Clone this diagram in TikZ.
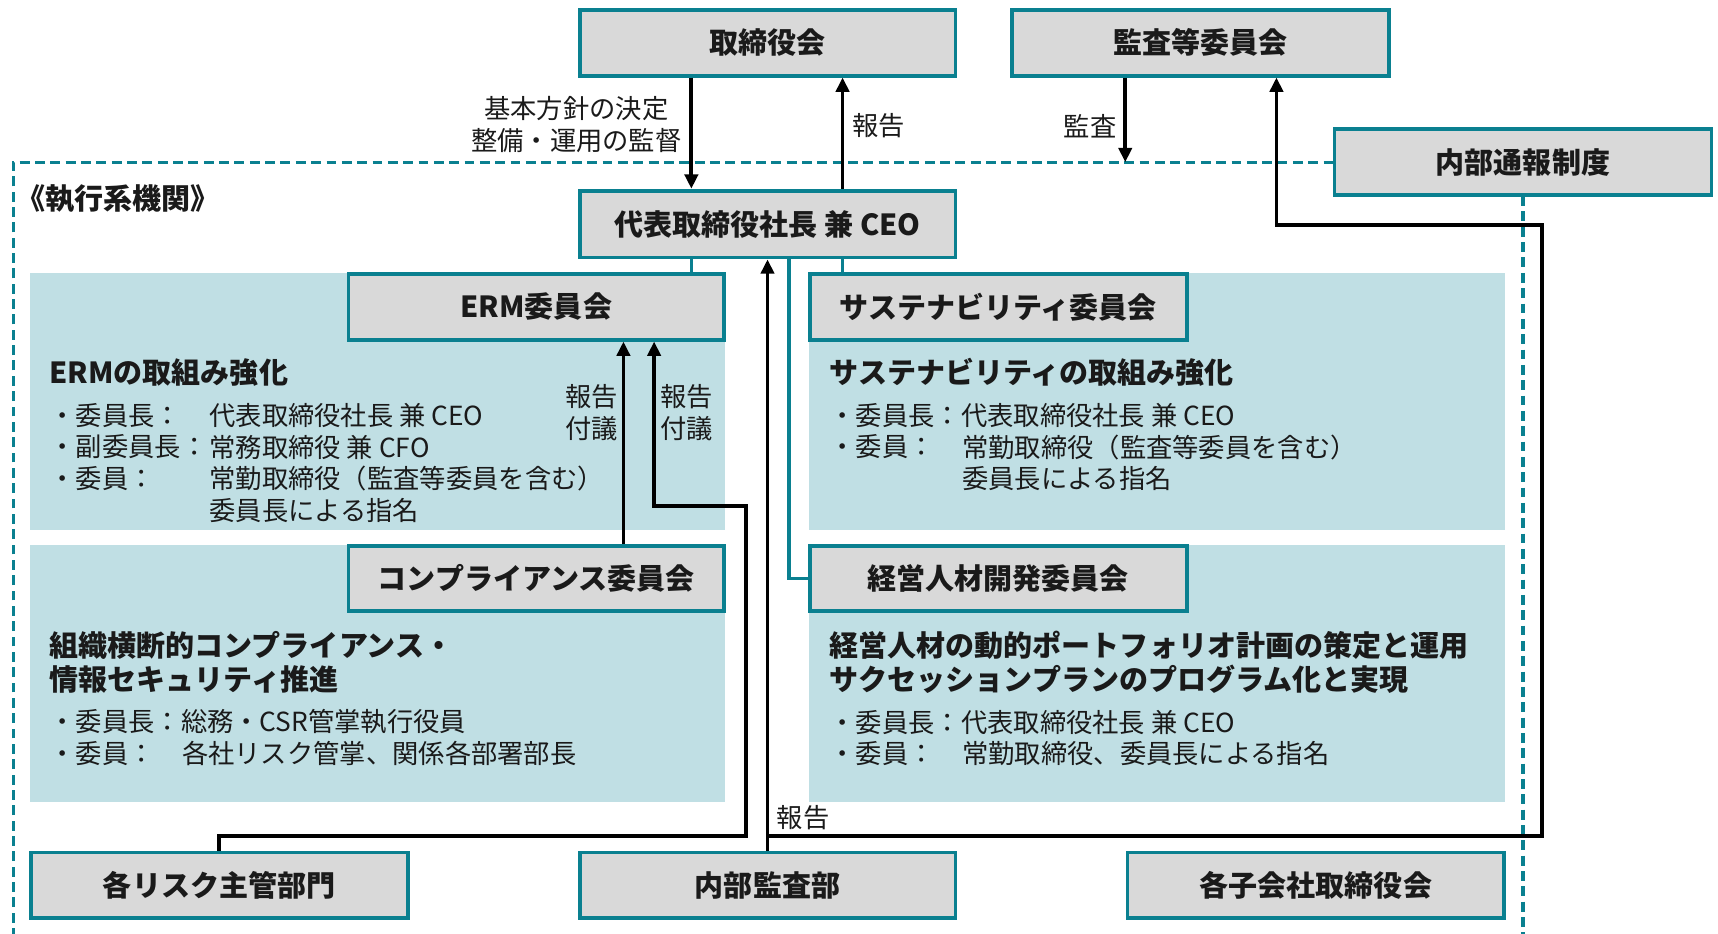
\documentclass[tikz,border=0pt]{standalone}
\usepackage{fontspec}
\setmainfont{Noto Sans CJK JP}
\usetikzlibrary{arrows.meta}
\definecolor{tealb}{HTML}{0A8090}
\definecolor{boxg}{HTML}{D9D9D9}
\definecolor{panelb}{HTML}{C0DFE4}
\definecolor{inkc}{HTML}{1A1A1A}
\newcommand\bodyf{\fontsize{24}{29}\selectfont}
\newcommand\boldf{\fontsize{26.5}{31}\selectfont\bfseries}
\newcommand\labf{\fontsize{26.5}{31}\selectfont\bfseries}
\begin{document}
\begin{tikzpicture}[x=1pt,y=-1pt,
  box/.style={draw=tealb, line width=3.5pt, fill=boxg, inner sep=0pt, minimum width=343pt, minimum height=60pt, font=\boldf, text=inkc},
  panel/.style={fill=panelb, draw=none},
  tline/.style={draw=tealb, line width=3pt},
  arr/.style={draw=black, line width=3.5pt, line join=miter, -{Triangle[length=13pt,width=12pt]}},
  dashline/.style={draw=tealb, line width=3pt, dash pattern=on 9pt off 5pt},
  txt/.style={inner sep=0pt, anchor=west, font=\bodyf, text=inkc},
  ttl/.style={inner sep=0pt, anchor=west, font=\boldf, text=inkc},
  lbl/.style={inner sep=0pt, font=\bodyf, text=inkc}]
\useasboundingbox (0,0) rectangle (1568,852);
\fill[white] (0,0) rectangle (1568,852);

% panels
\path[panel] (27,249) rectangle (662,484);
\path[panel] (27,497) rectangle (662,732);
\path[panel] (738,249) rectangle (1374,484);
\path[panel] (738,497) rectangle (1374,732);

% helper coordinates
\coordinate (xa) at (631,0);
\coordinate (xb) at (769,0);
\coordinate (xc) at (1027,0);
\coordinate (xf) at (720,0);
\coordinate (xg) at (569,0);
\coordinate (dl) at (12,148);
\coordinate (dlb) at (12,870);
\coordinate (c1) at (681,763);
\coordinate (c2) at (597,462);
\coordinate (c4) at (1407,205);
\coordinate (c5) at (1165,205);

% boxes
\node[box] (board) at (700.5,39) {取締役会};
\node[box, minimum width=344pt] (kansa) at (1096,39) {監査等委員会};
\node[box, minimum height=61pt] (ceo) at (700.5,204.5) {代表取締役社長 兼 CEO};

% dashed frame
\draw[dashline] (dlb) -- (dl) -- (1217,148);
\draw[dashline] (1390,179) -- (1390,870);
\node[box, minimum width=344pt] (whistle) at (1390,148) {内部通報制度};

% teal links from CEO
\draw[tline] (ceo.south -| xa) -- ++(0,14);
\draw[tline] (ceo.south -| xb) -- ++(0,14);
\draw[tline] (ceo.south -| xf) |- (738,528);

\node[box] (erm) at (489.5,280) {ERM委員会};
\node[box, minimum width=344pt] (sus) at (911,280) {サステナビリティ委員会};
\node[box] (comp) at (489.5,528) {コンプライアンス委員会};
\node[box, minimum width=344pt] (hr) at (911,528) {経営人材開発委員会};
\node[box, minimum width=344pt] (risk) at (200,808) {各リスク主管部門};
\node[box] (ia) at (700.5,808) {内部監査部};
\node[box, minimum width=344pt] (subs) at (1201,808) {各子会社取締役会};

% black connectors
\draw[arr] (board.south -| xa) -- (ceo.north -| xa);
\draw[arr] (ceo.north -| xb) -- (board.south -| xb);
\draw[arr] (kansa.south -| xc) -- (dl -| xc);
\draw[arr] (comp.north -| xg) -- (erm.south -| xg);
\draw[arr] (risk.north) |- (c1) |- (c2) -- (erm.south -| c2);
\draw[arr] (ia.north) -- (ceo.south);
\draw[arr] (ia.north |- c1) -| (c4) -- (c5) -- (kansa.south -| c5);

% connector labels
\node[lbl, align=center] (lbasic) at (526,113.5) {基本方針の決定\\整備・運用の監督};
\node[lbl] (lrep1) at (802,115) {報告};
\node[lbl] (lkansa) at (995,115) {監査};
\node[lbl, align=center] (lrep2) at (540,376.5) {報告\\付議};
\node[lbl, align=center] (lrep3) at (627,376.5) {報告\\付議};
\node[lbl] (lrep4) at (733,746) {報告};

% frame title
\node[inner sep=0pt, anchor=west, font=\labf, text=inkc] (exec) at (15,181) {《執行系機関》};

% ERM panel text
\node[ttl] (ermt) at (45,340) {ERMの取組み強化};
\node[txt] (erm1a) at (45,379) {・委員長：};
\node[txt] (erm1b) at (191,379) {代表取締役社長 兼 CEO};
\node[txt] (erm2a) at (45,408) {・副委員長：};
\node[txt] (erm2b) at (191,408) {常務取締役 兼 CFO};
\node[txt] (erm3a) at (45,437) {・委員：};
\node[txt] (erm3b) at (191,437) {常勤取締役（監査等委員を含む）};
\node[txt] (erm4b) at (191,466) {委員長による指名};

% compliance panel text
\node[ttl] (compt1) at (45,589) {組織横断的コンプライアンス・};
\node[ttl] (compt2) at (45,620) {情報セキュリティ推進};
\node[txt] (comp1) at (45,659) {・委員長：総務・CSR管掌執行役員};
\node[txt] (comp2a) at (45,688) {・委員：};
\node[txt] (comp2b) at (166,688) {各社リスク管掌、関係各部署部長};

% sustainability panel text
\node[ttl] (sust) at (757,340) {サステナビリティの取組み強化};
\node[txt] (sus1) at (757,379) {・委員長：代表取締役社長 兼 CEO};
\node[txt] (sus2a) at (757,408) {・委員：};
\node[txt] (sus2b) at (878,408) {常勤取締役（監査等委員を含む）};
\node[txt] (sus3b) at (878,437) {委員長による指名};

% HR panel text
\node[ttl] (hrt1) at (757,589) {経営人材の動的ポートフォリオ計画の策定と運用};
\node[ttl] (hrt2) at (757,620) {サクセッションプランのプログラム化と実現};
\node[txt] (hr1) at (757,659) {・委員長：代表取締役社長 兼 CEO};
\node[txt] (hr2a) at (757,688) {・委員：};
\node[txt] (hr2b) at (878,688) {常勤取締役、委員長による指名};
\end{tikzpicture}
\end{document}
